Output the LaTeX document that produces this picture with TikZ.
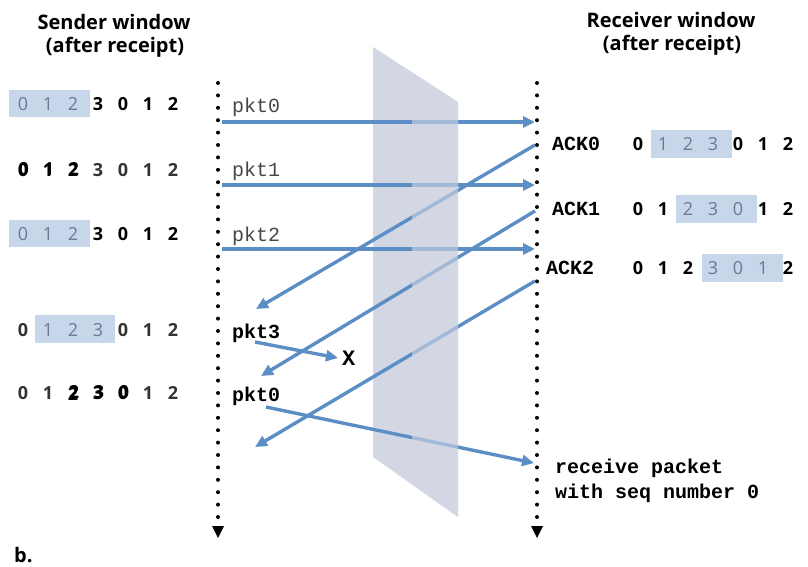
\documentclass[tikz,border=0pt]{standalone}
\usepackage{fontspec}
\setmainfont{Open Sans}
\newfontfamily\monof{Liberation Mono}
\usetikzlibrary{arrows.meta}
\definecolor{arrowblue}{RGB}{92,142,198}
\definecolor{hlblue}{RGB}{200,214,234}
\definecolor{panelgray}{RGB}{210,215,227}
\definecolor{digitgray}{RGB}{105,122,150}
\definecolor{pktgray}{RGB}{70,70,70}
\tikzset{
  dig/.style={inner sep=0pt, font=\fontsize{18}{18}\selectfont},
  dl/.style={dig, text=digitgray},
  db/.style={dig, font=\fontsize{18}{18}\selectfont\bfseries, text=black},
  dr/.style={dig, font=\fontsize{18}{18}\selectfont\bfseries, text=black!80},
  hl/.style={fill=hlblue, draw=none},
  header/.style={font=\fontsize{20}{20}\selectfont\bfseries, inner sep=0pt, anchor=base},
  pktlab/.style={font=\monof\fontsize{20}{20}\selectfont, text=pktgray, inner sep=0pt, anchor=base west},
  pktbold/.style={font=\monof\fontsize{20}{20}\selectfont\bfseries, text=black, inner sep=0pt, anchor=base west},
  msg/.style={draw=arrowblue, line width=3.4pt, -{Triangle[length=12pt,width=11pt]}},
  timeline/.style={line width=4pt, line cap=round, dash pattern=on 0pt off 12.4pt, black},
  tltip/.style={fill=black, draw=none},
}
\begin{document}
\begin{tikzpicture}[x=1pt,y=-1pt]
\useasboundingbox (0,0) rectangle (808,567);
% panel
\fill[panelgray] (373,47) -- (458,102) -- (458,517) -- (373,457) -- cycle;
% headers
\node[header] (sh1) at (114,30) {Sender window};
\node[header] (sh2) at (115,53) {(after receipt)};
\node[header] (rh1) at (671,28) {Receiver window};
\node[header] (rh2) at (672,51) {(after receipt)};
\node[header, anchor=base west] (blab) at (14,562) {b.};
% timelines
\coordinate (ltop) at (218,83);
\coordinate (lbot) at (218,522);
\coordinate (rtop) at (537,83);
\coordinate (rbot) at (537,522);
\draw[timeline] (ltop) -- (lbot);
\draw[timeline] (rtop) -- (rbot);
\fill[tltip] (212,526) -- (224,526) -- (218,538) -- cycle;
\fill[tltip] (531,526) -- (543,526) -- (537,538) -- cycle;
% sender highlight boxes
\fill[hl] (9,90) rectangle (90,117);
\fill[hl] (9,220) rectangle (90,247);
\fill[hl] (35,315) rectangle (115,343);
% receiver highlight boxes
\fill[hl] (651,130) rectangle (732,158);
\fill[hl] (676,195) rectangle (757,223);
\fill[hl] (702,254) rectangle (783,282);
% sender rows
\foreach \d [count=\i from 0] in {0,1,2,3,0,1,2} {
  \ifnum\i<3 \def\st{dl}\else\def\st{db}\fi
  \node[\st] (sa\i) at ({23+25*\i},104) {\d};
}
\foreach \d [count=\i from 0] in {0,1,2,3,0,1,2} {
  \ifnum\i<3
    \node[db] (sbx\i) at ({23.8+25*\i},169.2) {\d};
    \node[db] (sb\i) at ({23+25*\i},170) {\d};
  \else
    \node[dr] (sb\i) at ({23+25*\i},170) {\d};
  \fi
}
\foreach \d [count=\i from 0] in {0,1,2,3,0,1,2} {
  \ifnum\i<3 \def\st{dl}\else\def\st{db}\fi
  \node[\st] (sc\i) at ({23+25*\i},234) {\d};
}
\foreach \d [count=\i from 0] in {0,1,2,3,0,1,2} {
  \ifnum\i=0 \def\st{dr}\else\ifnum\i<4 \def\st{dl}\else\def\st{dr}\fi\fi
  \node[\st] (sd\i) at ({23+25*\i},330) {\d};
}
\foreach \d [count=\i from 0] in {0,1,2,3,0,1,2} {
  \ifnum\i<2
    \node[dr] (se\i) at ({23+25*\i},393) {\d};
  \else\ifnum\i<5
    \node[db] (sex\i) at ({24+25*\i},392) {\d};
    \node[db] (se\i) at ({23+25*\i},393.5) {\d};
  \else
    \node[dr] (se\i) at ({23+25*\i},393) {\d};
  \fi\fi
}
% receiver rows
\foreach \d [count=\i from 0] in {0,1,2,3,0,1,2} {
  \ifnum\i<1 \def\st{db}\else\ifnum\i<4 \def\st{dl}\else\def\st{db}\fi\fi
  \node[\st] (ra\i) at ({638+25*\i},144) {\d};
}
\foreach \d [count=\i from 0] in {0,1,2,3,0,1,2} {
  \ifnum\i<2 \def\st{db}\else\ifnum\i<5 \def\st{dl}\else\def\st{db}\fi\fi
  \node[\st] (rb\i) at ({638+25*\i},209) {\d};
}
\foreach \d [count=\i from 0] in {0,1,2,3,0,1,2} {
  \ifnum\i<3 \def\st{db}\else\ifnum\i<6 \def\st{dl}\else\def\st{db}\fi\fi
  \node[\st] (rc\i) at ({638+25*\i},268) {\d};
}
% packet labels
\node[pktlab] (p0) at (232,113) {pkt0};
\node[pktlab] (p1) at (232,176) {pkt1};
\node[pktlab] (p2) at (232,241) {pkt2};
\node[pktbold] (p3) at (232,338) {pkt3};
\node[pktbold] (p0b) at (232,401) {pkt0};
\node[pktbold] (ack0) at (552,150) {ACK0};
\node[pktbold] (ack1) at (552,215) {ACK1};
\node[pktbold] (ack2) at (546,274) {ACK2};
\node[pktbold, font=\monof\fontsize{22}{22}\selectfont\bfseries] (lost) at (342,365) {X};
\node[pktbold] (rcv1) at (555,473) {receive packet};
\node[pktbold] (rcv2) at (555,498) {with seq number 0};
% arrow endpoints
\coordinate (s0) at (222,122);  \coordinate (r0) at (535,122);
\coordinate (s1) at (222,185);  \coordinate (r1) at (535,185);
\coordinate (s2) at (222,249);  \coordinate (r2) at (535,249);
\coordinate (ra) at (535,145);  \coordinate (sa) at (256,309);
\coordinate (rb) at (535,211);  \coordinate (sb) at (261,376);
\coordinate (rc) at (535,281);  \coordinate (sc) at (255,447);
\coordinate (s3) at (255,342);  \coordinate (x3) at (338,358);
\coordinate (s4) at (266,407);  \coordinate (r4) at (534,463);
% messages
\draw[msg] (s0) -- (r0);
\draw[msg] (s1) -- (r1);
\draw[msg] (s2) -- (r2);
\draw[msg] (ra) -- (sa);
\draw[msg] (rb) -- (sb);
\draw[msg] (rc) -- (sc);
\draw[msg] (s3) -- (x3);
\draw[msg] (s4) -- (r4);
% panel overlay (arrows pass behind right part)
\fill[panelgray, fill opacity=0.6] (412,72.2) -- (458,102) -- (458,517) -- (412,484.5) -- cycle;
\end{tikzpicture}
\end{document}
